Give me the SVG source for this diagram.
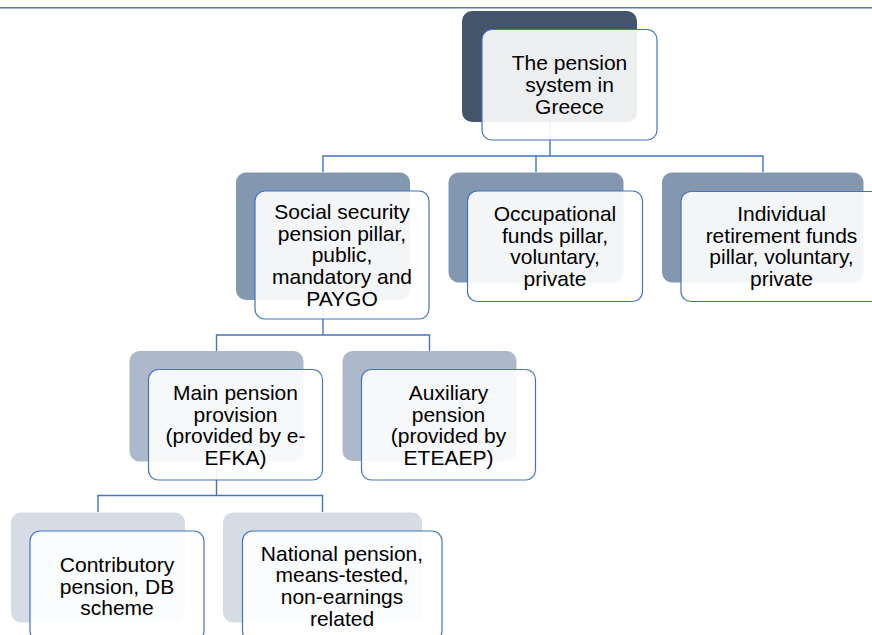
<svg xmlns="http://www.w3.org/2000/svg" width="872" height="635" viewBox="0 0 872 635">
<style>
.conn{fill:none;stroke:#4472C4;stroke-width:1.4}
.front{fill:#FFFFFF;fill-opacity:0.9;stroke:#4472C4;stroke-width:1.2}
.l1{fill:#44546A}
.l2{fill:#8497B0}
.l3{fill:#ADB9CA}
.l4{fill:#D6DCE5}
text{font-family:"Liberation Sans",Arial,sans-serif;font-size:21px;fill:#000;text-anchor:middle}
</style>
<rect width="872" height="635" fill="#FFFFFF"/>
<line x1="0" y1="7.8" x2="872" y2="7.8" stroke="#5B7BA6" stroke-width="1.6"/>
<g id="connectors">
<path class="conn" d="M550,122 V156 M323,172 V156 H763 V172 M536,156 V172"/>
<path class="conn" d="M323,300 V335 M216.5,351 V335 H429.5 V351"/>
<path class="conn" d="M216.5,462 V495.5 M98,512 V495.5 H322.5 V512"/>
</g>
<g id="n-root">
<rect class="l1" x="462" y="11" width="175" height="111" rx="10"/>
<rect class="front" x="482" y="29.5" width="175" height="110.5" rx="10"/>
<text x="569.5" y="70.3"><tspan x="569.5">The pension</tspan><tspan x="569.5" dy="21.7">system in</tspan><tspan x="569.5" dy="21.7">Greece</tspan></text>
</g>
<g id="n-social">
<rect class="l2" x="236" y="172.5" width="174" height="127.5" rx="10"/>
<rect class="front" x="255" y="191" width="174" height="128" rx="10"/>
<text x="342" y="218.8"><tspan x="342">Social security</tspan><tspan x="342" dy="21.7">pension pillar,</tspan><tspan x="342" dy="21.7">public,</tspan><tspan x="342" dy="21.7">mandatory and</tspan><tspan x="342" dy="21.7">PAYGO</tspan></text>
</g>
<g id="n-occupational">
<rect class="l2" x="448.5" y="172.5" width="175" height="110" rx="10"/>
<rect class="front" x="467.5" y="191" width="175" height="110.5" rx="10"/>
<text x="555" y="221"><tspan x="555">Occupational</tspan><tspan x="555" dy="21.7">funds pillar,</tspan><tspan x="555" dy="21.7">voluntary,</tspan><tspan x="555" dy="21.7">private</tspan></text>
</g>
<g id="n-individual">
<rect class="l2" x="662" y="172.5" width="201.5" height="110" rx="10"/>
<rect class="front" x="681" y="191.5" width="201.5" height="110" rx="10"/>
<text x="781.5" y="221"><tspan x="781.5">Individual</tspan><tspan x="781.5" dy="21.7">retirement funds</tspan><tspan x="781.5" dy="21.7">pillar, voluntary,</tspan><tspan x="781.5" dy="21.7">private</tspan></text>
</g>
<g id="n-main">
<rect class="l3" x="129.5" y="351" width="174" height="110.5" rx="10"/>
<rect class="front" x="148.5" y="369.5" width="174" height="110.5" rx="10"/>
<text x="235.5" y="400"><tspan x="235.5">Main pension</tspan><tspan x="235.5" dy="21.7">provision</tspan><tspan x="235.5" dy="21.7">(provided by e-</tspan><tspan x="235.5" dy="21.7">EFKA)</tspan></text>
</g>
<g id="n-auxiliary">
<rect class="l3" x="342.5" y="351" width="174" height="110" rx="10"/>
<rect class="front" x="361.5" y="369.5" width="174" height="110.5" rx="10"/>
<text x="448.5" y="400"><tspan x="448.5">Auxiliary</tspan><tspan x="448.5" dy="21.7">pension</tspan><tspan x="448.5" dy="21.7">(provided by</tspan><tspan x="448.5" dy="21.7">ETEAEP)</tspan></text>
</g>
<g id="n-contributory">
<rect class="l4" x="11" y="512.5" width="174" height="110" rx="10"/>
<rect class="front" x="30" y="531" width="174" height="110" rx="10"/>
<text x="117" y="571.8"><tspan x="117">Contributory</tspan><tspan x="117" dy="21.7">pension, DB</tspan><tspan x="117" dy="21.7">scheme</tspan></text>
</g>
<g id="n-national">
<rect class="l4" x="223" y="512.5" width="199" height="110" rx="10"/>
<rect class="front" x="242.5" y="531" width="199.5" height="110" rx="10"/>
<text x="342" y="560.5"><tspan x="342">National pension,</tspan><tspan x="342" dy="21.7">means-tested,</tspan><tspan x="342" dy="21.7">non-earnings</tspan><tspan x="342" dy="21.7">related</tspan></text>
</g>
</svg>
